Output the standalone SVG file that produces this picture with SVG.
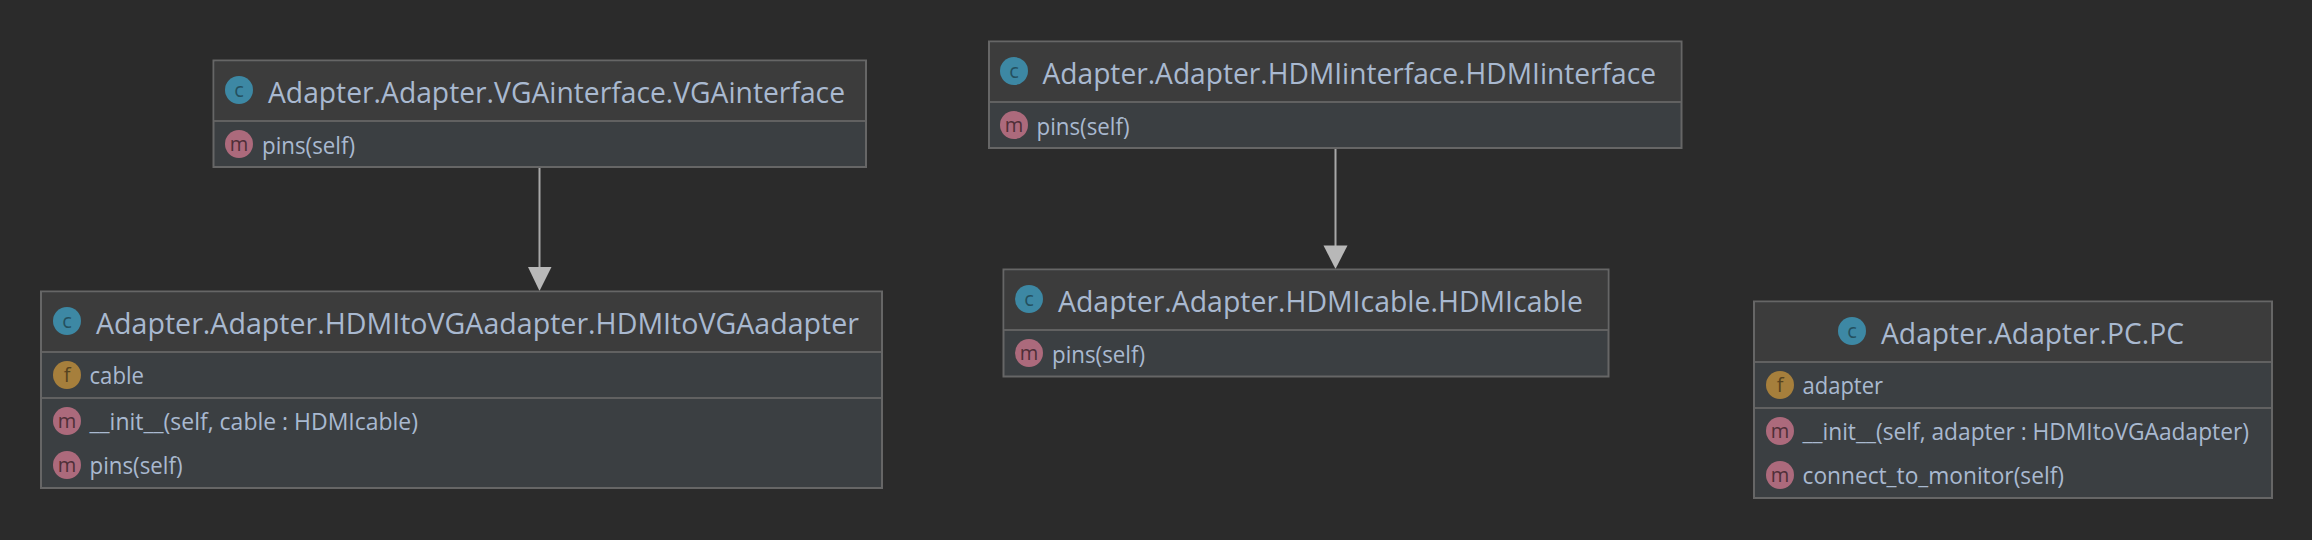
<svg xmlns="http://www.w3.org/2000/svg" width="2312" height="540" viewBox="0 0 2312 540">
<defs>
<style>
text{font-family:"Open Sans","Noto Sans","Liberation Sans",sans-serif;fill:#a9b9d0}
.t{font-size:30px}
.l{font-size:24px}
.g{font-size:20px;text-anchor:middle}
.gc{fill:#24505f}.gm{fill:#4f2f38}.gf{fill:#56431f}
.b{fill:#3b3f42;stroke:#666;stroke-width:2}
.h{fill:#3c3c3c}
.d{stroke:#616161;stroke-width:2}
.c{fill:#3d88a4}.m{fill:#ac6a7c}.f{fill:#a67f3c}
.e{stroke:#a8a8a8;stroke-width:2;fill:none}
.a{fill:#b8b8b8}
</style>
</defs>
<rect width="2312" height="540" fill="#2b2b2b"/>
<g id="connectors">
<line class="e" x1="539.5" y1="168" x2="539.5" y2="270"/>
<polygon class="a" points="528,267 551.5,267 539.5,291"/>
<line class="e" x1="1335.5" y1="149" x2="1335.5" y2="248"/>
<polygon class="a" points="1323.5,245.5 1347.5,245.5 1335.5,269"/>
</g>
<g id="vga-interface">
<rect class="b" x="213.5" y="60.5" width="652.5" height="106.5"/>
<rect class="h" x="214.5" y="61.5" width="650.5" height="59.5"/>
<line class="d" x1="214" y1="121" x2="865" y2="121"/>
<ellipse class="c" cx="239" cy="90" rx="14" ry="14"/><text class="g gc" x="239" y="97">c</text>
<ellipse class="m" cx="239" cy="144" rx="14" ry="14"/><text class="g gm" x="239" y="151">m</text>
<text class="t" x="268" y="103" textLength="577" lengthAdjust="spacingAndGlyphs">Adapter.Adapter.VGAinterface.VGAinterface</text>
<text class="l" x="262" y="153.5" textLength="93" lengthAdjust="spacingAndGlyphs">pins(self)</text>
</g>
<g id="hdmi-to-vga-adapter">
<rect class="b" x="41" y="291.5" width="841" height="196.5"/>
<rect class="h" x="42" y="292.5" width="839" height="59.5"/>
<line class="d" x1="42" y1="352" x2="881" y2="352"/>
<line class="d" x1="42" y1="398" x2="881" y2="398"/>
<ellipse class="c" cx="67" cy="321" rx="14" ry="14"/><text class="g gc" x="67" y="328">c</text>
<ellipse class="f" cx="67" cy="375" rx="14" ry="14"/><text class="g gf" x="67" y="382">f</text>
<ellipse class="m" cx="67" cy="421" rx="14" ry="14"/><text class="g gm" x="67" y="428">m</text>
<ellipse class="m" cx="67" cy="465" rx="14" ry="14"/><text class="g gm" x="67" y="472">m</text>
<text class="t" x="96" y="334" textLength="763" lengthAdjust="spacingAndGlyphs">Adapter.Adapter.HDMItoVGAadapter.HDMItoVGAadapter</text>
<text class="l" x="89.5" y="384" textLength="54.5" lengthAdjust="spacingAndGlyphs">cable</text>
<text class="l" x="89.5" y="430" textLength="328.5" lengthAdjust="spacingAndGlyphs">__init__(self, cable : HDMIcable)</text>
<text class="l" x="89.5" y="474" textLength="93" lengthAdjust="spacingAndGlyphs">pins(self)</text>
</g>
<g id="hdmi-interface">
<rect class="b" x="989" y="41.5" width="692.5" height="106.5"/>
<rect class="h" x="990" y="42.5" width="690.5" height="59.5"/>
<line class="d" x1="990" y1="102" x2="1681" y2="102"/>
<ellipse class="c" cx="1014" cy="71" rx="14" ry="14"/><text class="g gc" x="1014" y="78">c</text>
<ellipse class="m" cx="1014" cy="125" rx="14" ry="14"/><text class="g gm" x="1014" y="132">m</text>
<text class="t" x="1042.5" y="84" textLength="613.5" lengthAdjust="spacingAndGlyphs">Adapter.Adapter.HDMIinterface.HDMIinterface</text>
<text class="l" x="1036.5" y="134.5" textLength="93" lengthAdjust="spacingAndGlyphs">pins(self)</text>
</g>
<g id="hdmi-cable">
<rect class="b" x="1003.5" y="269.5" width="605" height="107"/>
<rect class="h" x="1004.5" y="270.5" width="603" height="59.5"/>
<line class="d" x1="1004" y1="330" x2="1608" y2="330"/>
<ellipse class="c" cx="1029" cy="299" rx="14" ry="14"/><text class="g gc" x="1029" y="306">c</text>
<ellipse class="m" cx="1029" cy="353" rx="14" ry="14"/><text class="g gm" x="1029" y="360">m</text>
<text class="t" x="1058" y="312" textLength="525" lengthAdjust="spacingAndGlyphs">Adapter.Adapter.HDMIcable.HDMIcable</text>
<text class="l" x="1052" y="362.5" textLength="93" lengthAdjust="spacingAndGlyphs">pins(self)</text>
</g>
<g id="pc">
<rect class="b" x="1754" y="301.5" width="518" height="196.5"/>
<rect class="h" x="1755" y="302.5" width="516" height="59.5"/>
<line class="d" x1="1755" y1="362" x2="2271" y2="362"/>
<line class="d" x1="1755" y1="408" x2="2271" y2="408"/>
<ellipse class="c" cx="1852" cy="331" rx="14" ry="14"/><text class="g gc" x="1852" y="338">c</text>
<ellipse class="f" cx="1780" cy="385" rx="14" ry="14"/><text class="g gf" x="1780" y="392">f</text>
<ellipse class="m" cx="1780" cy="431" rx="14" ry="14"/><text class="g gm" x="1780" y="438">m</text>
<ellipse class="m" cx="1780" cy="475" rx="14" ry="14"/><text class="g gm" x="1780" y="482">m</text>
<text class="t" x="1881" y="344" textLength="303" lengthAdjust="spacingAndGlyphs">Adapter.Adapter.PC.PC</text>
<text class="l" x="1802.5" y="394" textLength="80.5" lengthAdjust="spacingAndGlyphs">adapter</text>
<text class="l" x="1802.5" y="440" textLength="446.5" lengthAdjust="spacingAndGlyphs">__init__(self, adapter : HDMItoVGAadapter)</text>
<text class="l" x="1802.5" y="484" textLength="261.5" lengthAdjust="spacingAndGlyphs">connect_to_monitor(self)</text>
</g>
</svg>
